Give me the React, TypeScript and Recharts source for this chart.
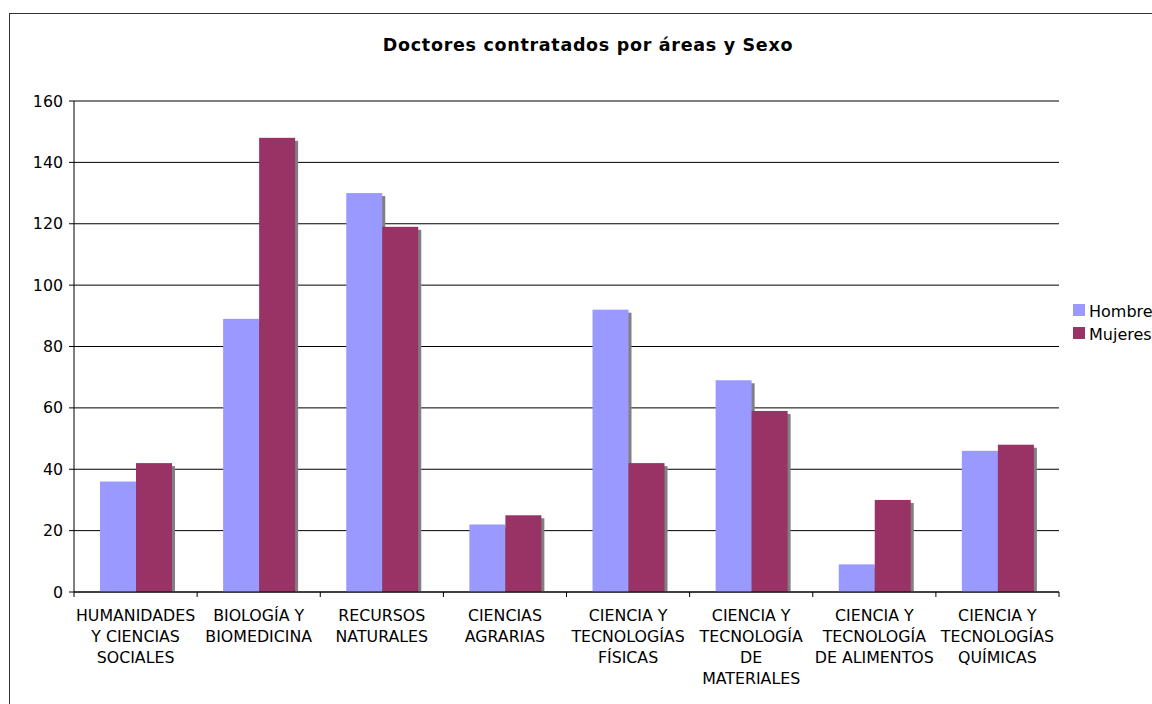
import React from "react";
import { BarChart, Bar, XAxis, YAxis, CartesianGrid } from "recharts";

const categories = [
  "HUMANIDADES\nY CIENCIAS\nSOCIALES",
  "BIOLOGÍA Y\nBIOMEDICINA",
  "RECURSOS\nNATURALES",
  "CIENCIAS\nAGRARIAS",
  "CIENCIA Y\nTECNOLOGÍAS\nFÍSICAS",
  "CIENCIA Y\nTECNOLOGÍA\nDE\nMATERIALES",
  "CIENCIA Y\nTECNOLOGÍA\nDE ALIMENTOS",
  "CIENCIA Y\nTECNOLOGÍAS\nQUÍMICAS",
];
const hombre = [36, 89, 130, 22, 92, 69, 9, 46];
const mujeres = [42, 148, 119, 25, 42, 59, 30, 48];
const yTicks = [0, 20, 40, 60, 80, 100, 120, 140, 160];
const seriesNames = ["Hombre", "Mujeres"];
const title = "Doctores contratados por áreas y Sexo";

const COLORS = ["#9999FF", "#993366"];
const FONT = "'DejaVu Sans', Verdana, sans-serif";

const data = categories.map((c, i) => ({ cat: c, h: hombre[i], m: mujeres[i] }));

const ShadowBar = (props: any) => {
  const { x, y, width, height, fill } = props;
  if (width == null || height == null || height <= 0) return null;
  return (
    <g>
      <rect x={x + 3} y={y + 3} width={width} height={Math.max(0, height - 3)} fill="#808080" />
      <rect x={x} y={y} width={width} height={height} fill={fill} />
    </g>
  );
};

const XTick = (props: any) => {
  const { x, payload, index } = props;
  const half = payload && payload.offset ? payload.offset : 61.56;
  const lines = String(payload.value).split("\n");
  const axisY = 592;
  const last = index === categories.length - 1;
  return (
    <g>
      <line x1={x - half} x2={x - half} y1={axisY} y2={axisY + 5} stroke="#000" />
      {last && <line x1={x + half} x2={x + half} y1={axisY} y2={axisY + 5} stroke="#000" />}
      <text x={x} y={axisY} textAnchor="middle" fontFamily={FONT} fontSize={15.8} fill="#000">
        {lines.map((l, i) => (
          <tspan key={i} x={x} dy={i === 0 ? 28.5 : 21.3}>
            {l}
          </tspan>
        ))}
      </text>
    </g>
  );
};

export default function App() {
  return (
    <div
      style={{
        position: "absolute",
        left: 0,
        top: 0,
        width: 1152,
        height: 704,
        overflow: "hidden",
        background: "#fff",
      }}
    >
      <div
        style={{
          position: "absolute",
          left: 9,
          top: 13,
          width: 1300,
          height: 900,
          border: "1px solid #333",
          boxSizing: "border-box",
        }}
      />
      <div style={{ position: "absolute", left: 0, top: 0 }}>
        <BarChart
          width={1152}
          height={704}
          data={data}
          margin={{ top: 101, right: 93, bottom: 12, left: 14 }}
          barGap={0}
          barSize={36}
        >
          <CartesianGrid horizontal vertical={false} stroke="#000" strokeWidth={1} />
          <XAxis
            dataKey="cat"
            height={100}
            interval={0}
            tickLine={false}
            axisLine={{ stroke: "#000" }}
            tick={<XTick />}
          />
          <XAxis
            xAxisId="top"
            dataKey="cat"
            orientation="top"
            height={0}
            tick={false}
            tickLine={false}
            axisLine={{ stroke: "#808080" }}
          />
          <YAxis
            width={60}
            domain={[0, 160]}
            ticks={yTicks}
            interval={0}
            tickSize={5}
            tickMargin={6}
            tickLine={{ stroke: "#000" }}
            axisLine={{ stroke: "#000" }}
            tick={{ fill: "#000", fontSize: 15.8, fontFamily: FONT }}
          />
          <YAxis
            yAxisId="right"
            orientation="right"
            width={0}
            domain={[0, 160]}
            tick={false}
            tickLine={false}
            axisLine={{ stroke: "#808080" }}
          />
          <Bar dataKey="h" name={seriesNames[0]} fill={COLORS[0]} shape={<ShadowBar />} isAnimationActive={false} />
          <Bar dataKey="m" name={seriesNames[1]} fill={COLORS[1]} shape={<ShadowBar />} isAnimationActive={false} />
        </BarChart>
      </div>
      <svg
        width={1152}
        height={704}
        style={{ position: "absolute", left: 0, top: 0, pointerEvents: "none" }}
      >
        <text
          x={588}
          y={50.5}
          textAnchor="middle"
          fontFamily={FONT}
          fontWeight="bold"
          fontSize={17.5}
          letterSpacing={0.7}
          fill="#000"
        >
          {title}
        </text>
        {seriesNames.map((n, i) => (
          <g key={n}>
            <rect x={1073} y={304 + i * 23} width={12} height={12} fill={COLORS[i]} />
            <text x={1089} y={316.5 + i * 23} fontFamily={FONT} fontSize={16} fill="#000">
              {n}
            </text>
          </g>
        ))}
      </svg>
    </div>
  );
}
